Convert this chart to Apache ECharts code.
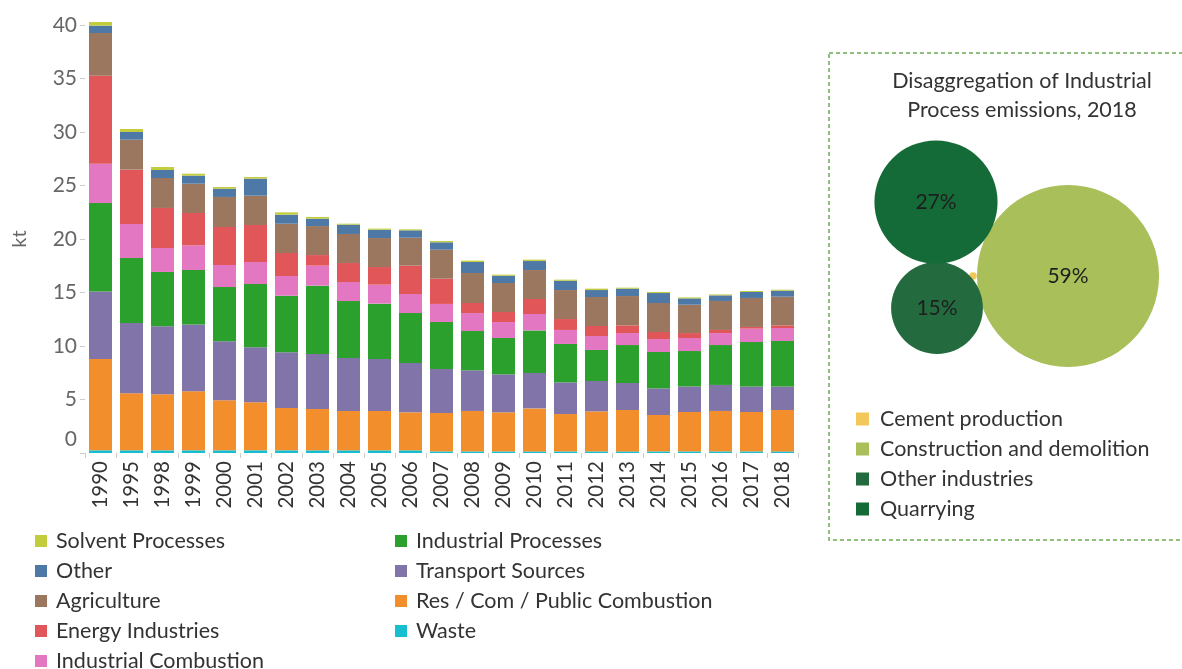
<!DOCTYPE html>
<html>
<head>
<meta charset="utf-8">
<script src="https://cdn.jsdelivr.net/npm/echarts@6/dist/echarts.min.js"></script>
<style>
  html, body { margin: 0; padding: 0; background: #fff; }
  #chart { width: 1182px; height: 669px; }
</style>
</head>
<body>
<div id="chart"></div>
<script>
const years = ['1990', '1995', '1998', '1999', '2000', '2001', '2002', '2003', '2004', '2005', '2006', '2007',
  '2008', '2009', '2010', '2011', '2012', '2013', '2014', '2015', '2016', '2017', '2018']

// kt per sector, stacked bottom to top
const waste = [0.25, 0.25, 0.25, 0.25, 0.25, 0.25, 0.25, 0.25, 0.25, 0.25, 0.25, 0.15,
  0.15, 0.15, 0.15, 0.15, 0.15, 0.15, 0.15, 0.15, 0.15, 0.15, 0.15]
const resCom = [8.53, 5.33, 5.23, 5.51, 4.67, 4.49, 3.96, 3.86, 3.68, 3.68, 3.55, 3.59,
  3.78, 3.65, 4.02, 3.49, 3.74, 3.87, 3.4, 3.68, 3.78, 3.68, 3.87]
const transport = [6.32, 6.57, 6.36, 6.26, 5.52, 5.14, 5.2, 5.14, 4.95, 4.86, 4.61, 4.11,
  3.8, 3.55, 3.31, 2.96, 2.84, 2.52, 2.49, 2.39, 2.43, 2.39, 2.2]
const indProc = [8.26, 6.07, 5.08, 5.08, 5.07, 5.91, 5.29, 6.39, 5.32, 5.17, 4.67, 4.39,
  3.67, 3.4, 3.98, 3.59, 2.9, 3.55, 3.4, 3.31, 3.73, 4.15, 4.25]
const indComb = [3.68, 3.18, 2.24, 2.3, 2.06, 2.06, 1.84, 1.87, 1.78, 1.77, 1.78, 1.69,
  1.68, 1.49, 1.53, 1.31, 1.3, 1.12, 1.21, 1.22, 1.12, 1.25, 1.21]
const energy = [8.22, 5.08, 3.74, 3.03, 3.55, 3.46, 2.15, 0.99, 1.78, 1.65, 2.65, 2.36,
  0.94, 0.94, 1.4, 1.02, 0.94, 0.72, 0.66, 0.46, 0.29, 0.16, 0.25]
const agri = [3.99, 2.8, 2.8, 2.74, 2.81, 2.74, 2.74, 2.71, 2.71, 2.71, 2.61, 2.71,
  2.8, 2.71, 2.71, 2.71, 2.71, 2.74, 2.71, 2.65, 2.71, 2.71, 2.68]
const other = [0.69, 0.72, 0.75, 0.75, 0.77, 1.59, 0.84, 0.69, 0.87, 0.78, 0.69, 0.69,
  1.03, 0.68, 0.84, 0.87, 0.65, 0.69, 0.93, 0.59, 0.52, 0.56, 0.56]
const solvent = [0.34, 0.28, 0.28, 0.18, 0.16, 0.15, 0.22, 0.16, 0.09, 0.1, 0.09, 0.12,
  0.13, 0.1, 0.13, 0.1, 0.13, 0.09, 0.1, 0.09, 0.09, 0.09, 0.09]

const yTicks = [0, 5, 10, 15, 20, 25, 30, 35, 40]

// bubble panel: share of industrial process emissions 2018 (%)
const bubbleNames = ['Cement production', 'Construction and demolition', 'Other industries', 'Quarrying']
const bubbleShare = [0.1, 59, 15, 27]
const bubbleX = [144, 239, 108, 107]
const bubbleY = [134, 134, 102, 208]

const FONT = 'Lato'

const sectors = [
  { name: 'Waste', data: waste, color: '#17becf' },
  { name: 'Res / Com / Public Combustion', data: resCom, color: '#f28e2b' },
  { name: 'Transport Sources', data: transport, color: '#8174a9' },
  { name: 'Industrial Processes', data: indProc, color: '#2ca02c' },
  { name: 'Industrial Combustion', data: indComb, color: '#e377c2' },
  { name: 'Energy Industries', data: energy, color: '#e15759' },
  { name: 'Agriculture', data: agri, color: '#9c775f' },
  { name: 'Other', data: other, color: '#4e79a7' },
  { name: 'Solvent Processes', data: solvent, color: '#c2cc3c' }
]
const bubbleColors = ['#f2c85b', '#a8bf5a', '#236a3f', '#156b37']

const chart = echarts.init(document.getElementById('chart'))

const barSeries = sectors.map(s => ({
  name: s.name,
  type: 'bar',
  stack: 'total',
  barWidth: 23,
  clip: false,
  xAxisIndex: 0,
  yAxisIndex: 0,
  itemStyle: { color: s.color },
  data: s.data,
  animation: false
}))

const bubbleSeries = bubbleNames.map((name, i) => ({
  name: name,
  type: 'scatter',
  xAxisIndex: 1,
  yAxisIndex: 1,
  symbolSize: 23.7 * Math.sqrt(bubbleShare[i]),
  itemStyle: { color: bubbleColors[i], opacity: 1 },
  label: {
    show: bubbleShare[i] >= 1,
    position: 'inside',
    formatter: Math.round(bubbleShare[i]) + '%',
    fontFamily: FONT,
    fontSize: 21,
    color: '#1e1e1e'
  },
  data: [[bubbleX[i], bubbleY[i]]],
  animation: false
}))

function legendText(padLeft) {
  return { fontFamily: FONT, fontSize: 21.5, color: '#333', lineHeight: 20, padding: [0, 0, 0, padLeft] }
}

chart.setOption({
  textStyle: { fontFamily: FONT },
  title: {
    text: 'Disaggregation of Industrial\nProcess emissions, 2018',
    left: 1017,
    top: 62,
    textAlign: 'center',
    textStyle: { fontFamily: FONT, fontSize: 21.5, fontWeight: 'normal', color: '#333', lineHeight: 29 }
  },
  graphic: [{
    type: 'rect',
    shape: { x: 829, y: 53, width: 380, height: 487 },
    style: { fill: 'none', stroke: '#6aaa55', lineWidth: 1.5, lineDash: [4, 3] },
    z: -1
  }],
  legend: [{
    orient: 'vertical',
    left: 35,
    top: 530,
    height: 170,
    padding: 0,
    itemWidth: 12,
    itemHeight: 12,
    itemGap: 8,
    icon: 'rect',
    textStyle: legendText(4),
    data: ['Solvent Processes', 'Other', 'Agriculture', 'Energy Industries', 'Industrial Combustion']
  }, {
    orient: 'vertical',
    left: 395,
    top: 530,
    height: 170,
    padding: 0,
    itemWidth: 12,
    itemHeight: 12,
    itemGap: 8,
    icon: 'rect',
    textStyle: legendText(4),
    data: ['Industrial Processes', 'Transport Sources', 'Res / Com / Public Combustion', 'Waste']
  }, {
    orient: 'vertical',
    left: 856,
    top: 408,
    padding: 0,
    itemWidth: 13,
    itemHeight: 13,
    itemGap: 8,
    icon: 'rect',
    textStyle: legendText(6),
    data: bubbleNames
  }],
  grid: [{
    left: 85,
    right: 384,
    top: 25,
    bottom: 216
  }, {
    left: 829,
    top: 120,
    width: 350,
    height: 290
  }],
  xAxis: [{
    type: 'category',
    data: years,
    axisLine: { show: false },
    axisTick: { show: true, length: 5, lineStyle: { color: '#cccccc' } },
    axisLabel: { rotate: 90, fontSize: 20.5, color: '#333', margin: 8 }
  }, {
    type: 'value',
    gridIndex: 1,
    min: 0,
    max: 350,
    show: false
  }],
  yAxis: [{
    type: 'value',
    min: yTicks[0],
    max: yTicks[yTicks.length - 1],
    interval: 5,
    name: 'kt',
    nameLocation: 'middle',
    nameGap: 55,
    nameTextStyle: { fontSize: 20, color: '#666' },
    axisLine: { show: false },
    axisTick: { show: true, length: 5, lineStyle: { color: '#cccccc' } },
    splitLine: { show: false },
    axisLabel: {
      fontSize: 21,
      color: '#666',
      margin: 8,
      formatter: v => v === 0 ? '{z|0}' : String(v),
      rich: { z: { fontSize: 21, color: '#666', padding: [0, 0, 28, 0] } }
    }
  }, {
    type: 'value',
    gridIndex: 1,
    min: 0,
    max: 290,
    show: false
  }],
  series: barSeries.concat(bubbleSeries)
})
</script>
</body>
</html>
